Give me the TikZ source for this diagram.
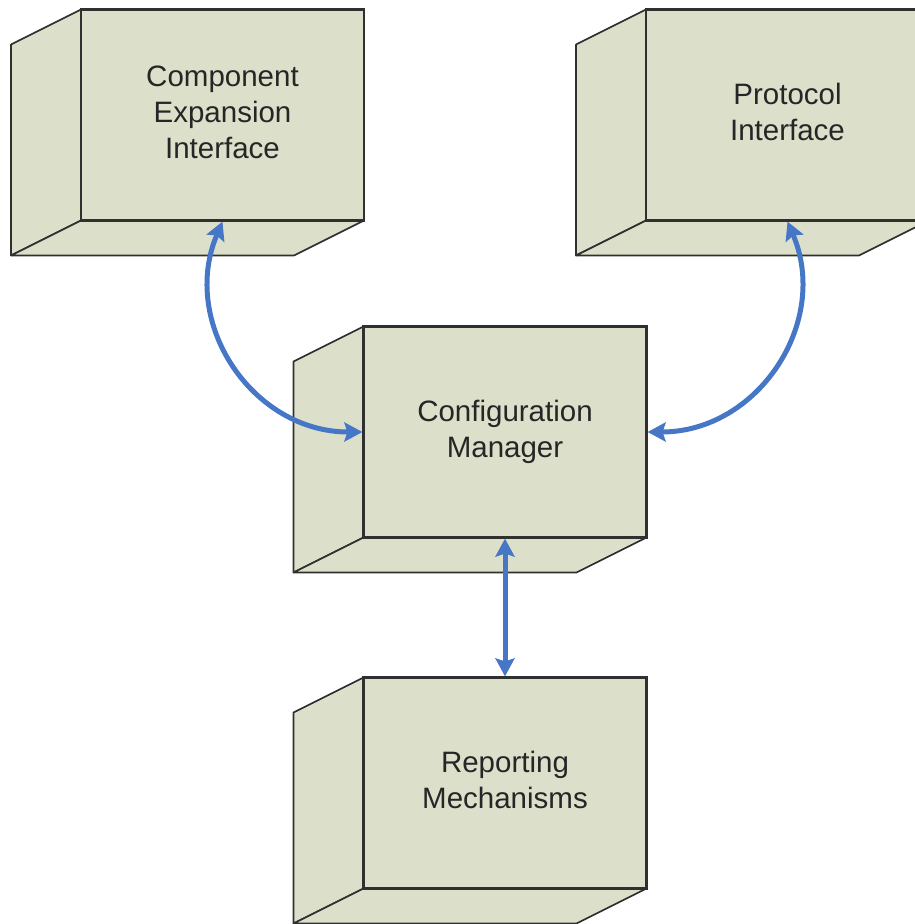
\documentclass[tikz,border=0pt]{standalone}
\usepackage{fontspec}
\setmainfont{Liberation Sans}
\usetikzlibrary{arrows.meta}
\definecolor{boxfill}{RGB}{220,223,202}
\definecolor{boxline}{RGB}{48,48,48}
\definecolor{linkblue}{RGB}{70,118,198}
\tikzset{
  front/.style={draw=boxline, line width=2.2pt, fill=boxfill,
    minimum width=283pt, minimum height=211pt, inner sep=0pt,
    align=center, text=black!85,
    font=\fontsize{29.5}{36}\selectfont},
  face/.style={draw=boxline, line width=1.6pt, fill=boxfill, line join=round},
  link/.style={draw=linkblue, line width=5pt,
    {Stealth[length=18pt,width=19pt,inset=3pt]}-{Stealth[length=18pt,width=19pt,inset=3pt]}}
}
% A box drawn as a cube: left and bottom faces, then the named front face.
% #1 name, #2/#3 centre of the front face, #4 label
\newcommand\cubebox[4]{%
  \draw[face] (#2-141.5,#3-105.5) -- ++(-70,35) -- ++(0,211) -- ++(70,-35) -- cycle;
  \draw[face] (#2-141.5,#3+105.5) -- ++(-70,35) -- ++(283,0) -- ++(70,-35) -- cycle;
  \node[front] (#1) at (#2,#3) {\raisebox{1pt}{\begin{tabular}{@{}c@{}}#4\end{tabular}}};
}
\begin{document}
\begin{tikzpicture}[x=1pt,y=-1pt]
  \useasboundingbox (0,0) rectangle (915,924);
  \clip (0,0) rectangle (915,924);

  \cubebox{comp}{222.5}{115}{Component\\Expansion\\Interface}
  \cubebox{proto}{787.5}{115}{Protocol\\Interface}
  \cubebox{cfg}{505}{432}{Configuration\\Manager}
  \cubebox{rep}{505}{783}{Reporting\\Mechanisms}

  \draw[link] (comp.south) .. controls +(-43,101) and +(-110,0) .. (cfg.west);
  \draw[link] (proto.south) .. controls +(43,101) and +(110,0) .. (cfg.east);
  \draw[link] (cfg.south) -- (rep.north);
\end{tikzpicture}
\end{document}
